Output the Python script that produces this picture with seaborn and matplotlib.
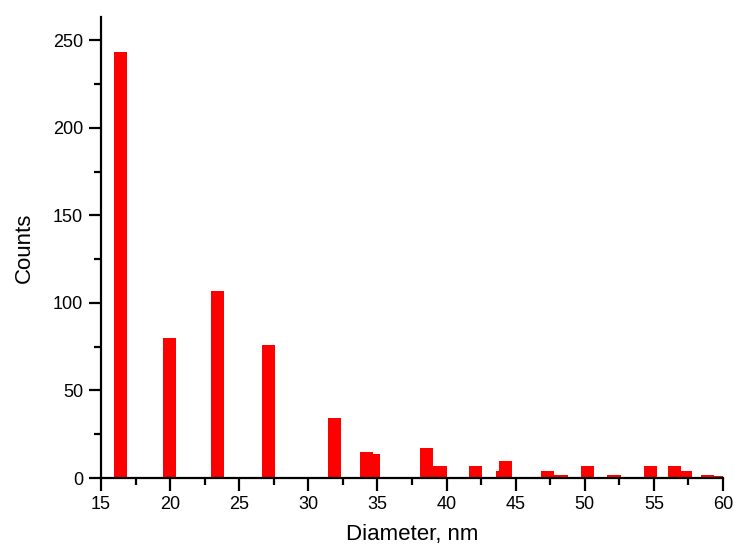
import numpy as np
import pandas as pd
import matplotlib
matplotlib.use("Agg")
import matplotlib.pyplot as plt
import seaborn as sns
from matplotlib.ticker import MultipleLocator

# Particle size distribution: bar centres (nm) and counts
diameters = [16.43, 19.95, 23.41, 27.10, 31.90, 34.22, 34.74, 38.56, 39.53,
             42.07, 44.08, 44.25, 47.33, 48.29, 50.22, 52.11, 54.73, 56.50,
             57.25, 58.89, 59.49]
counts = [243, 80, 107, 76, 34, 15, 14, 17, 7,
          7, 4, 10, 4, 2, 7, 2, 7, 7,
          4, 2, 1]
x_ticks = [15, 20, 25, 30, 35, 40, 45, 50, 55, 60]
y_ticks = [0, 50, 100, 150, 200, 250]

df = pd.DataFrame({"diameter": diameters, "count": counts})

sns.set_theme(style="ticks")
plt.rcParams["font.family"] = ["Liberation Sans", "DejaVu Sans"]

fig = plt.figure(figsize=(7.34, 5.47), dpi=100)
ax = fig.add_axes([0.1376, 0.1261, 0.8474, 0.842])

bar_width = 0.96  # nm
min_gap = np.diff(np.unique(df["diameter"])).min()
sns.barplot(data=df, x="diameter", y="count", native_scale=True,
            width=bar_width / min_gap, color="#ff0000", saturation=1,
            linewidth=0, errorbar=None, ax=ax)

ax.set_xlim(15, 60)
ax.set_ylim(0, 263)
ax.xaxis.set_major_locator(plt.FixedLocator(x_ticks))
ax.yaxis.set_major_locator(plt.FixedLocator(y_ticks))
ax.xaxis.set_minor_locator(MultipleLocator(2.5))
ax.yaxis.set_minor_locator(MultipleLocator(25))

for side in ("top", "right"):
    ax.spines[side].set_visible(False)
for side in ("left", "bottom"):
    ax.spines[side].set_linewidth(1.6)
    ax.spines[side].set_color("black")

ax.tick_params(which="major", direction="out", length=9, width=1.6,
               labelsize=13, pad=4, colors="black")
ax.tick_params(which="minor", direction="out", length=5, width=1.6,
               colors="black")

ax.set_xlabel("Diameter, nm", fontsize=16, labelpad=8, color="black")
ax.set_ylabel("Counts", fontsize=16, labelpad=13, color="black")
ax.set_facecolor("white")

fig.savefig("out.png", dpi=100, facecolor="white")
